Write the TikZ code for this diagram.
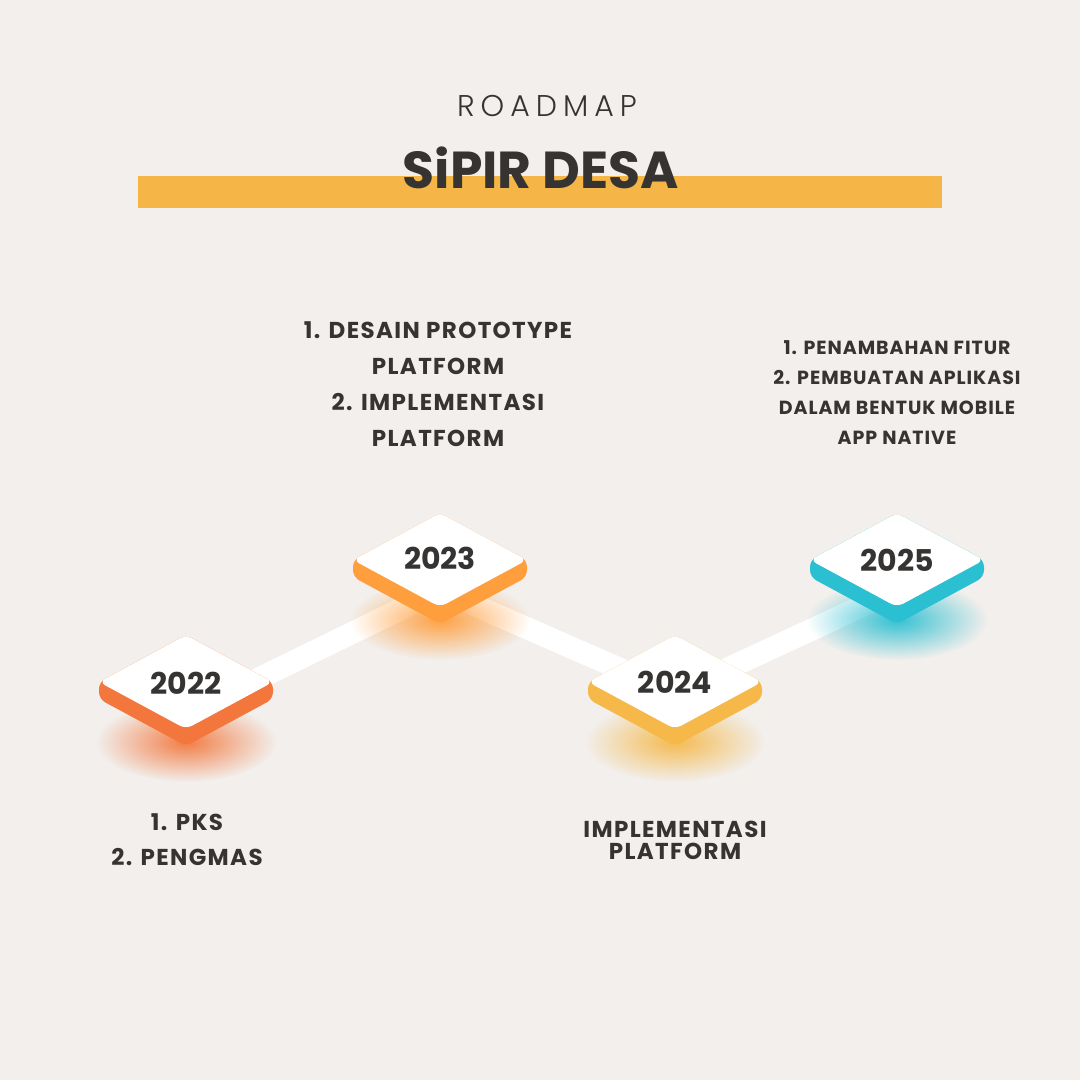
\documentclass[tikz,border=0pt]{standalone}
\usepackage{fontspec}
\setmainfont{Poppins}
\newfontfamily\poplight{Poppins Light}[LetterSpace=20]
\newfontfamily\bodyfont{Poppins}[LetterSpace=6]
\newfontfamily\smallfont{Poppins}[LetterSpace=5]
\usetikzlibrary{fadings}
\definecolor{bg}{HTML}{F2EFEC}
\definecolor{barc}{HTML}{F5B547}
\definecolor{c22}{HTML}{F3773D}
\definecolor{c23}{HTML}{FF9E3D}
\definecolor{c24}{HTML}{F5B849}
\definecolor{c25}{HTML}{2BBFD2}
\definecolor{txt}{HTML}{363432}
\tikzfading[name=glowfade, inner color=transparent!5, outer color=transparent!100]
\tikzset{
  band/.style={draw=white, line width=22pt},
  year/.style={font=\bfseries\fontsize{30}{30}\selectfont, text=txt, inner sep=0pt},
  body/.style={font=\bodyfont\bfseries\fontsize{23}{36}\selectfont, text=txt, align=center, inner sep=0pt, anchor=base},
  bodysmall/.style={font=\smallfont\bfseries\fontsize{19}{29.7}\selectfont, text=txt, align=center, inner sep=0pt, anchor=base},
  glow/.style={path fading=glowfade},
  slab/.pic={
    \fill[pic actions, rounded corners=7] (-87,0) -- (-87,17) -- (0,64) -- (87,17) -- (87,0) -- (0,-47) -- cycle;
    \fill[white, rounded corners=7] (-87,0) -- (0,47) -- (87,0) -- (0,-47) -- cycle;
  }
}
\begin{document}
\begin{tikzpicture}[x=1pt,y=-1pt]
\fill[bg] (0,0) rectangle (1080,1080);
\useasboundingbox (0,0) rectangle (1080,1080);
% title
\fill[barc] (138,176) rectangle (942,208);
\node[font=\poplight\fontsize{30}{30}\selectfont, text=txt, anchor=base, inner sep=0pt] (roadmap) at (547,116) {ROADMAP};
\node[font=\bfseries\fontsize{52}{52}\selectfont, text=txt, anchor=base, inner sep=0pt] (title) at (541,188) {SiPIR DESA};
% band points
\coordinate (p22) at (186,714);
\coordinate (p23) at (440,590);
\coordinate (p24) at (675,693);
\coordinate (p25) at (897,590);
\draw[band] (p22) -- (p23);
\draw[band] (p23) -- (p24);
\draw[band] (p24) -- (p25);
% glows
\fill[c22, glow] (186,742) ellipse [x radius=90, y radius=40];
\fill[c23, glow] (440,620) ellipse [x radius=90, y radius=40];
\fill[c24, glow] (675,742) ellipse [x radius=90, y radius=40];
\fill[c25, glow] (897,620) ellipse [x radius=90, y radius=40];
% slabs
\pic[c22] at (186,682) {slab};
\pic[c23] at (440,560) {slab};
\pic[c24] at (675,682) {slab};
\pic[c25] at (897,560) {slab};
\node[year] (y22) at (186,683) {2022};
\node[year] (y23) at (440,558) {2023};
\node[year] (y24) at (675,682) {2024};
\node[year] (y25) at (897,560) {2025};
% texts (anchor base = baseline of last line)
\node[body] (t23) at (438,446) {1. DESAIN PROTOTYPE\\PLATFORM\\2. IMPLEMENTASI\\PLATFORM};
\node[bodysmall] (t25) at (897,444) {1. PENAMBAHAN FITUR\\2. PEMBUATAN APLIKASI\\DALAM BENTUK MOBILE\\APP NATIVE};
\node[body, font=\bodyfont\bfseries\fontsize{23}{35}\selectfont] (t22) at (187,865) {1. PKS\\2. PENGMAS};
\node[body, font=\bodyfont\bfseries\fontsize{23}{22}\selectfont] (t24) at (675,859) {IMPLEMENTASI\\PLATFORM};
\end{tikzpicture}
\end{document}
